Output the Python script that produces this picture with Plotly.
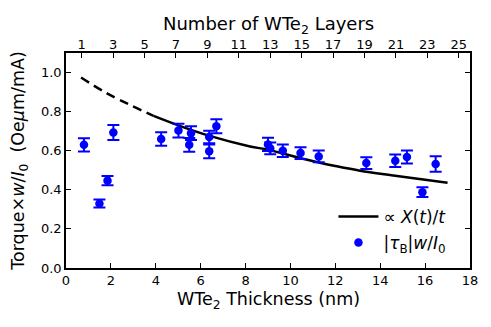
import plotly.graph_objects as go

# measured points
thickness_nm = [0.80, 1.49, 1.85, 2.11, 4.24, 5.01, 5.49, 5.57, 6.38, 6.38, 6.70,
                9.00, 9.10, 9.66, 10.45, 11.26, 13.38, 14.67, 15.19, 15.88, 16.47]
torque = [0.630, 0.330, 0.447, 0.693, 0.660, 0.703, 0.630, 0.690, 0.670, 0.597, 0.725,
          0.632, 0.612, 0.600, 0.588, 0.571, 0.537, 0.549, 0.568, 0.388, 0.532]
torque_err = [0.034, 0.020, 0.024, 0.038, 0.035, 0.035, 0.035, 0.035, 0.032, 0.035, 0.036,
              0.034, 0.030, 0.032, 0.030, 0.030, 0.030, 0.032, 0.033, 0.025, 0.040]

# model curve  ∝ X(t)/t
curve_t_dashed = [0.67, 1.74, 2.86, 3.9]
curve_v_dashed = [0.975, 0.899, 0.834, 0.778]
curve_t_solid = [3.9, 5.0, 6.4, 8.2, 9.0, 10.5, 11.26, 12.0, 13.1, 14.5, 16.0, 17.0]
curve_v_solid = [0.778, 0.730, 0.676, 0.622, 0.605, 0.560, 0.540, 0.522, 0.498, 0.475, 0.452, 0.436]

# top axis: number of layers
layer_ticks = [1, 3, 5, 7, 9, 11, 13, 15, 17, 19, 21, 23, 25]
nm_per_layer = 0.7
x_range = [0, 18]

FONT = "DejaVu Sans"
BLUE = "#0000ff"
TITLE_SIZE = 17.5

fig = go.Figure()
fig.add_trace(go.Scatter(
    x=curve_t_dashed, y=curve_v_dashed, mode="lines", line_shape="spline",
    line=dict(color="black", width=2.5, dash="9px,6px"), showlegend=False,
    hoverinfo="skip"))
fig.add_trace(go.Scatter(
    x=curve_t_solid, y=curve_v_solid, mode="lines", line_shape="spline",
    line=dict(color="black", width=2.5), legend="legend",
    name="∝ <i>X</i>(<i>t</i>)/<i>t</i>"))
fig.add_trace(go.Scatter(
    x=thickness_nm, y=torque, mode="markers",
    marker=dict(color=BLUE, size=8.5), legend="legend2",
    error_y=dict(type="data", array=torque_err, color=BLUE, thickness=2, width=6),
    name="|<i>τ</i><sub>B</sub>|<i>w</i>/<i>I</i><sub>0</sub>"))
# invisible trace to carry the top layer axis
fig.add_trace(go.Scatter(x=[layer_ticks[0], layer_ticks[-1]], y=[None, None],
                         xaxis="x2", mode="markers", showlegend=False,
                         hoverinfo="skip"))

leg_common = dict(xanchor="left", yanchor="middle", bgcolor="rgba(0,0,0,0)",
                  font=dict(size=17), itemwidth=40)

# the page body adds an 8px offset; margins compensate for it
fig.update_layout(
    width=491, height=327,
    margin=dict(l=58, r=29, t=45, b=67, autoexpand=False),
    paper_bgcolor="white", plot_bgcolor="white",
    font=dict(family=FONT, size=13, color="black"),
    showlegend=True,
    legend=dict(x=0.662, y=0.237, **leg_common),
    legend2=dict(x=0.662, y=0.116, **leg_common),
    xaxis=dict(range=x_range, dtick=2, tick0=0, showgrid=False, zeroline=False,
               automargin=False,
               ticks="inside", ticklen=5, tickwidth=1, tickcolor="black",
               showline=True, linecolor="black", linewidth=1.5, mirror=True,
               tickfont=dict(size=13)),
    xaxis2=dict(range=[x_range[0] / nm_per_layer, x_range[1] / nm_per_layer],
                overlaying="x", side="top", tickvals=layer_ticks, automargin=False,
                showgrid=False, zeroline=False, ticks="inside", ticklen=5,
                tickcolor="black", showline=False,
                tickfont=dict(size=13)),
    yaxis=dict(range=[0, 1.1], tickvals=[0, 0.2, 0.4, 0.6, 0.8, 1.0],
               ticktext=["0.0", "0.2", "0.4", "0.6", "0.8", "1.0"], automargin=False,
               showgrid=False, zeroline=False, ticks="inside", ticklen=5,
               tickcolor="black", showline=True, linecolor="black", linewidth=1.5,
               mirror="ticks",
               title=dict(text="Torque×<i>w</i>/<i>I</i><sub>0</sub>  (Oe<i>μ</i>m/mA)",
                          font=dict(size=TITLE_SIZE), standoff=14),
               tickfont=dict(size=13)),
    annotations=[
        dict(text="WTe<sub>2</sub> Thickness (nm)", xref="paper", yref="paper",
             x=0.5, y=0, xanchor="center", yanchor="middle", yshift=-32,
             showarrow=False, font=dict(size=TITLE_SIZE)),
        dict(text="Number of WTe<sub>2</sub> Layers", xref="paper", yref="paper",
             x=0.5, y=1, xanchor="center", yanchor="middle", yshift=28,
             showarrow=False, font=dict(size=18)),
    ],
)

fig.write_html("out.html")
